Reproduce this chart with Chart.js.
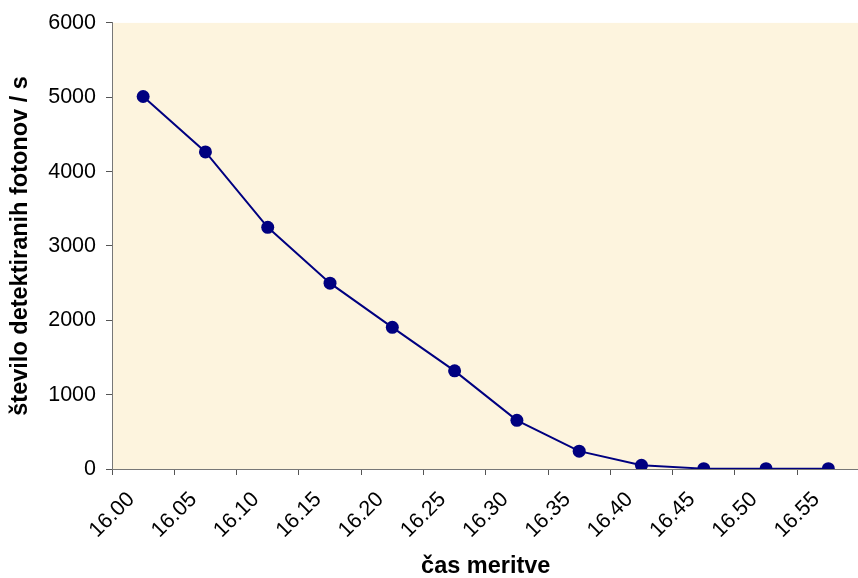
<!DOCTYPE html>
<html>
<head>
<meta charset="utf-8">
<script src="https://cdn.jsdelivr.net/npm/chart.js@4.4.1/dist/chart.umd.min.js"></script>
<style>
  html, body { margin: 0; padding: 0; background: #fff; overflow: hidden; }
  canvas { display: block; }
</style>
</head>
<body>
<canvas id="chart" width="866" height="578"></canvas>
<script>
// data
const times = ['16.00', '16.05', '16.10', '16.15', '16.20', '16.25', '16.30', '16.35', '16.40', '16.45', '16.50', '16.55'];
const counts = [5010, 4265, 3250, 2500, 1905, 1320, 655, 240, 50, 5, 5, 5];
const yMin = 0;
const yMax = 6000;
const yStep = 1000;
const xTitle = 'čas meritve';
const yTitle = 'število detektiranih fotonov / s';

Chart.defaults.font.family = '"Liberation Sans", Arial, sans-serif';
Chart.defaults.font.size = 21.5;
Chart.defaults.color = '#000';

// beige plot area
const plotBackground = {
  id: 'plotBackground',
  beforeDraw(chart) {
    const { ctx, chartArea: a } = chart;
    ctx.save();
    ctx.fillStyle = '#FDF4DE';
    ctx.fillRect(a.left, a.top, a.right - a.left, a.bottom - a.top);
    ctx.restore();
  }
};

const ctx = document.getElementById('chart').getContext('2d');
const chart = new Chart(ctx, {
  type: 'line',
  data: {
    labels: times,
    datasets: [{
      data: counts,
      borderColor: '#000080',
      backgroundColor: '#000080',
      borderWidth: 2,
      pointRadius: 6.5,
      pointBorderWidth: 0,
      pointBackgroundColor: '#000080',
      tension: 0
    }]
  },
  options: {
    responsive: false,
    animation: false,
    layout: { padding: { top: 20, right: 2, left: 0, bottom: 0 } },
    plugins: {
      legend: { display: false },
      tooltip: { enabled: false }
    },
    scales: {
      x: {
        type: 'category',
        offset: true,
        afterFit: function(scale) { scale.height = 109; },
        grid: {
          offset: true,
          drawOnChartArea: false,
          tickLength: 6,
          color: '#555'
        },
        border: { color: '#777', width: 1 },
        ticks: {
          autoSkip: false,
          minRotation: 45,
          maxRotation: 45,
          padding: 12,
          labelOffset: -12
        },
        title: {
          display: true,
          text: xTitle,
          font: { size: 23.5, weight: 'bold', lineHeight: 1 },
          padding: { top: 0, bottom: 0 }
        }
      },
      y: {
        min: yMin,
        max: yMax,
        afterFit: function(scale) { scale.width = 112; },
        grid: {
          drawOnChartArea: false,
          tickLength: 6,
          color: '#555'
        },
        border: { color: '#777', width: 1 },
        ticks: {
          stepSize: yStep,
          padding: 10,
          callback: function(value) { return String(value); }
        },
        title: {
          display: true,
          text: yTitle,
          font: { size: 23.5, weight: 'bold', lineHeight: 1 },
          padding: { top: 9, bottom: 0 }
        }
      }
    }
  },
  plugins: [plotBackground]
});
</script>
</body>
</html>
